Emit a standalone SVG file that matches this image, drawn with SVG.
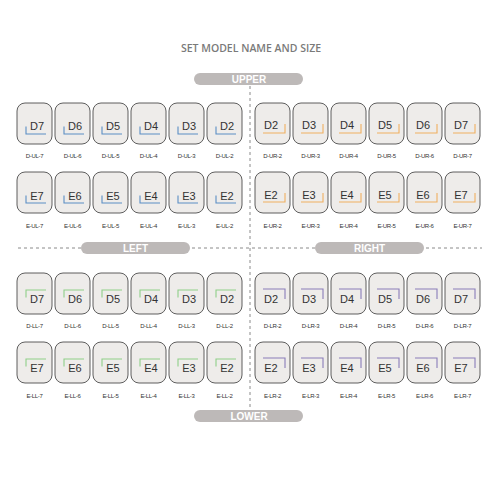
<svg xmlns="http://www.w3.org/2000/svg" width="500" height="500" viewBox="0 0 500 500">
<style>
.tile{fill:#eeecea;stroke:#4d4d4d;stroke-width:0.9}
.t{font-family:"Liberation Sans",Arial,sans-serif;font-size:11px;fill:#333;text-anchor:middle}
.lbl{font-family:"Liberation Sans",Arial,sans-serif;font-size:6px;letter-spacing:-0.3px;fill:#333;text-anchor:middle}
.b{fill:none;stroke-width:1.1}
.ul{stroke:#5b8ec4}.ur{stroke:#f0b060}.ll{stroke:#8fcf88}.lr{stroke:#8a7db8}
.pill{fill:#bdb9b8}
.pt{font-family:"Liberation Sans",Arial,sans-serif;font-weight:bold;font-size:10px;fill:#fff;text-anchor:middle}
.dash{stroke:#8a8a8a;stroke-width:1;stroke-dasharray:3 3;fill:none}
</style>
<rect width="500" height="500" fill="#fff"/>
<text x="251" y="51.5" font-family="'Open Sans','Liberation Sans',sans-serif" font-weight="600" font-size="10.5" fill="#7a7a7a" text-anchor="middle">SET MODEL NAME AND SIZE</text>
<g id="connectors">
<path class="dash" d="M250,86V410"/>
<path class="dash" d="M18,248H482"/>
</g>
<g id="upper"><rect class="pill" x="194" y="73" width="109" height="12" rx="6"/><text class="pt" x="249" y="82.5">UPPER</text></g>
<g id="lower"><rect class="pill" x="194" y="410" width="109" height="12" rx="6"/><text class="pt" x="249" y="419.5">LOWER</text></g>
<g id="left"><rect class="pill" x="81" y="242" width="109" height="12" rx="6"/><text class="pt" x="135.5" y="251.5">LEFT</text></g>
<g id="right"><rect class="pill" x="315" y="242" width="109" height="12" rx="6"/><text class="pt" x="369.5" y="251.5">RIGHT</text></g>

<!-- Upper left D -->
<g id="D-UL-7" transform="translate(17,103)"><rect class="tile" width="35" height="41" rx="8"/><path class="b ul" d="M9,23.5V31H29"/><text class="t" x="20" y="27">D7</text><text class="lbl" x="17.5" y="55">D-UL-7</text></g>
<g id="D-UL-6" transform="translate(55,103)"><rect class="tile" width="35" height="41" rx="8"/><path class="b ul" d="M9,23.5V31H29"/><text class="t" x="20" y="27">D6</text><text class="lbl" x="17.5" y="55">D-UL-6</text></g>
<g id="D-UL-5" transform="translate(93,103)"><rect class="tile" width="35" height="41" rx="8"/><path class="b ul" d="M9,23.5V31H29"/><text class="t" x="20" y="27">D5</text><text class="lbl" x="17.5" y="55">D-UL-5</text></g>
<g id="D-UL-4" transform="translate(131,103)"><rect class="tile" width="35" height="41" rx="8"/><path class="b ul" d="M9,23.5V31H29"/><text class="t" x="20" y="27">D4</text><text class="lbl" x="17.5" y="55">D-UL-4</text></g>
<g id="D-UL-3" transform="translate(169,103)"><rect class="tile" width="35" height="41" rx="8"/><path class="b ul" d="M9,23.5V31H29"/><text class="t" x="20" y="27">D3</text><text class="lbl" x="17.5" y="55">D-UL-3</text></g>
<g id="D-UL-2" transform="translate(207,103)"><rect class="tile" width="35" height="41" rx="8"/><path class="b ul" d="M9,23.5V31H29"/><text class="t" x="20" y="27">D2</text><text class="lbl" x="17.5" y="55">D-UL-2</text></g>
<!-- Upper right D -->
<g id="D-UR-2" transform="translate(255,103)"><rect class="tile" width="35" height="41" rx="8"/><path class="b ur" d="M8,30H30V21"/><text class="t" x="16" y="26">D2</text><text class="lbl" x="17.5" y="55">D-UR-2</text></g>
<g id="D-UR-3" transform="translate(293,103)"><rect class="tile" width="35" height="41" rx="8"/><path class="b ur" d="M8,30H30V21"/><text class="t" x="16" y="26">D3</text><text class="lbl" x="17.5" y="55">D-UR-3</text></g>
<g id="D-UR-4" transform="translate(331,103)"><rect class="tile" width="35" height="41" rx="8"/><path class="b ur" d="M8,30H30V21"/><text class="t" x="16" y="26">D4</text><text class="lbl" x="17.5" y="55">D-UR-4</text></g>
<g id="D-UR-5" transform="translate(369,103)"><rect class="tile" width="35" height="41" rx="8"/><path class="b ur" d="M8,30H30V21"/><text class="t" x="16" y="26">D5</text><text class="lbl" x="17.5" y="55">D-UR-5</text></g>
<g id="D-UR-6" transform="translate(407,103)"><rect class="tile" width="35" height="41" rx="8"/><path class="b ur" d="M8,30H30V21"/><text class="t" x="16" y="26">D6</text><text class="lbl" x="17.5" y="55">D-UR-6</text></g>
<g id="D-UR-7" transform="translate(445,103)"><rect class="tile" width="35" height="41" rx="8"/><path class="b ur" d="M8,30H30V21"/><text class="t" x="16" y="26">D7</text><text class="lbl" x="17.5" y="55">D-UR-7</text></g>

<!-- Upper left E -->
<g id="E-UL-7" transform="translate(17,172)"><rect class="tile" width="35" height="41" rx="8"/><path class="b ul" d="M9,23.5V31H29"/><text class="t" x="20" y="27.5">E7</text><text class="lbl" x="17.5" y="56">E-UL-7</text></g>
<g id="E-UL-6" transform="translate(55,172)"><rect class="tile" width="35" height="41" rx="8"/><path class="b ul" d="M9,23.5V31H29"/><text class="t" x="20" y="27.5">E6</text><text class="lbl" x="17.5" y="56">E-UL-6</text></g>
<g id="E-UL-5" transform="translate(93,172)"><rect class="tile" width="35" height="41" rx="8"/><path class="b ul" d="M9,23.5V31H29"/><text class="t" x="20" y="27.5">E5</text><text class="lbl" x="17.5" y="56">E-UL-5</text></g>
<g id="E-UL-4" transform="translate(131,172)"><rect class="tile" width="35" height="41" rx="8"/><path class="b ul" d="M9,23.5V31H29"/><text class="t" x="20" y="27.5">E4</text><text class="lbl" x="17.5" y="56">E-UL-4</text></g>
<g id="E-UL-3" transform="translate(169,172)"><rect class="tile" width="35" height="41" rx="8"/><path class="b ul" d="M9,23.5V31H29"/><text class="t" x="20" y="27.5">E3</text><text class="lbl" x="17.5" y="56">E-UL-3</text></g>
<g id="E-UL-2" transform="translate(207,172)"><rect class="tile" width="35" height="41" rx="8"/><path class="b ul" d="M9,23.5V31H29"/><text class="t" x="20" y="27.5">E2</text><text class="lbl" x="17.5" y="56">E-UL-2</text></g>
<!-- Upper right E -->
<g id="E-UR-2" transform="translate(255,172)"><rect class="tile" width="35" height="41" rx="8"/><path class="b ur" d="M8,30H30V21"/><text class="t" x="16" y="26.5">E2</text><text class="lbl" x="17.5" y="56">E-UR-2</text></g>
<g id="E-UR-3" transform="translate(293,172)"><rect class="tile" width="35" height="41" rx="8"/><path class="b ur" d="M8,30H30V21"/><text class="t" x="16" y="26.5">E3</text><text class="lbl" x="17.5" y="56">E-UR-3</text></g>
<g id="E-UR-4" transform="translate(331,172)"><rect class="tile" width="35" height="41" rx="8"/><path class="b ur" d="M8,30H30V21"/><text class="t" x="16" y="26.5">E4</text><text class="lbl" x="17.5" y="56">E-UR-4</text></g>
<g id="E-UR-5" transform="translate(369,172)"><rect class="tile" width="35" height="41" rx="8"/><path class="b ur" d="M8,30H30V21"/><text class="t" x="16" y="26.5">E5</text><text class="lbl" x="17.5" y="56">E-UR-5</text></g>
<g id="E-UR-6" transform="translate(407,172)"><rect class="tile" width="35" height="41" rx="8"/><path class="b ur" d="M8,30H30V21"/><text class="t" x="16" y="26.5">E6</text><text class="lbl" x="17.5" y="56">E-UR-6</text></g>
<g id="E-UR-7" transform="translate(445,172)"><rect class="tile" width="35" height="41" rx="8"/><path class="b ur" d="M8,30H30V21"/><text class="t" x="16" y="26.5">E7</text><text class="lbl" x="17.5" y="56">E-UR-7</text></g>

<!-- Lower left D -->
<g id="D-LL-7" transform="translate(17,273)"><rect class="tile" width="35" height="41" rx="8"/><path class="b ll" d="M9,24.5V17H29"/><text class="t" x="20" y="30">D7</text><text class="lbl" x="17.5" y="55">D-LL-7</text></g>
<g id="D-LL-6" transform="translate(55,273)"><rect class="tile" width="35" height="41" rx="8"/><path class="b ll" d="M9,24.5V17H29"/><text class="t" x="20" y="30">D6</text><text class="lbl" x="17.5" y="55">D-LL-6</text></g>
<g id="D-LL-5" transform="translate(93,273)"><rect class="tile" width="35" height="41" rx="8"/><path class="b ll" d="M9,24.5V17H29"/><text class="t" x="20" y="30">D5</text><text class="lbl" x="17.5" y="55">D-LL-5</text></g>
<g id="D-LL-4" transform="translate(131,273)"><rect class="tile" width="35" height="41" rx="8"/><path class="b ll" d="M9,24.5V17H29"/><text class="t" x="20" y="30">D4</text><text class="lbl" x="17.5" y="55">D-LL-4</text></g>
<g id="D-LL-3" transform="translate(169,273)"><rect class="tile" width="35" height="41" rx="8"/><path class="b ll" d="M9,24.5V17H29"/><text class="t" x="20" y="30">D3</text><text class="lbl" x="17.5" y="55">D-LL-3</text></g>
<g id="D-LL-2" transform="translate(207,273)"><rect class="tile" width="35" height="41" rx="8"/><path class="b ll" d="M9,24.5V17H29"/><text class="t" x="20" y="30">D2</text><text class="lbl" x="17.5" y="55">D-LL-2</text></g>
<!-- Lower right D -->
<g id="D-LR-2" transform="translate(255,273)"><rect class="tile" width="35" height="41" rx="8"/><path class="b lr" d="M8,16H30V26"/><text class="t" x="16" y="29.5">D2</text><text class="lbl" x="17.5" y="55">D-LR-2</text></g>
<g id="D-LR-3" transform="translate(293,273)"><rect class="tile" width="35" height="41" rx="8"/><path class="b lr" d="M8,16H30V26"/><text class="t" x="16" y="29.5">D3</text><text class="lbl" x="17.5" y="55">D-LR-3</text></g>
<g id="D-LR-4" transform="translate(331,273)"><rect class="tile" width="35" height="41" rx="8"/><path class="b lr" d="M8,16H30V26"/><text class="t" x="16" y="29.5">D4</text><text class="lbl" x="17.5" y="55">D-LR-4</text></g>
<g id="D-LR-5" transform="translate(369,273)"><rect class="tile" width="35" height="41" rx="8"/><path class="b lr" d="M8,16H30V26"/><text class="t" x="16" y="29.5">D5</text><text class="lbl" x="17.5" y="55">D-LR-5</text></g>
<g id="D-LR-6" transform="translate(407,273)"><rect class="tile" width="35" height="41" rx="8"/><path class="b lr" d="M8,16H30V26"/><text class="t" x="16" y="29.5">D6</text><text class="lbl" x="17.5" y="55">D-LR-6</text></g>
<g id="D-LR-7" transform="translate(445,273)"><rect class="tile" width="35" height="41" rx="8"/><path class="b lr" d="M8,16H30V26"/><text class="t" x="16" y="29.5">D7</text><text class="lbl" x="17.5" y="55">D-LR-7</text></g>

<!-- Lower left E -->
<g id="E-LL-7" transform="translate(17,342)"><rect class="tile" width="35" height="41" rx="8"/><path class="b ll" d="M9,24.5V17H29"/><text class="t" x="20" y="30">E7</text><text class="lbl" x="17.5" y="56">E-LL-7</text></g>
<g id="E-LL-6" transform="translate(55,342)"><rect class="tile" width="35" height="41" rx="8"/><path class="b ll" d="M9,24.5V17H29"/><text class="t" x="20" y="30">E6</text><text class="lbl" x="17.5" y="56">E-LL-6</text></g>
<g id="E-LL-5" transform="translate(93,342)"><rect class="tile" width="35" height="41" rx="8"/><path class="b ll" d="M9,24.5V17H29"/><text class="t" x="20" y="30">E5</text><text class="lbl" x="17.5" y="56">E-LL-5</text></g>
<g id="E-LL-4" transform="translate(131,342)"><rect class="tile" width="35" height="41" rx="8"/><path class="b ll" d="M9,24.5V17H29"/><text class="t" x="20" y="30">E4</text><text class="lbl" x="17.5" y="56">E-LL-4</text></g>
<g id="E-LL-3" transform="translate(169,342)"><rect class="tile" width="35" height="41" rx="8"/><path class="b ll" d="M9,24.5V17H29"/><text class="t" x="20" y="30">E3</text><text class="lbl" x="17.5" y="56">E-LL-3</text></g>
<g id="E-LL-2" transform="translate(207,342)"><rect class="tile" width="35" height="41" rx="8"/><path class="b ll" d="M9,24.5V17H29"/><text class="t" x="20" y="30">E2</text><text class="lbl" x="17.5" y="56">E-LL-2</text></g>
<!-- Lower right E -->
<g id="E-LR-2" transform="translate(255,342)"><rect class="tile" width="35" height="41" rx="8"/><path class="b lr" d="M8,16H30V26"/><text class="t" x="16" y="29.5">E2</text><text class="lbl" x="17.5" y="56">E-LR-2</text></g>
<g id="E-LR-3" transform="translate(293,342)"><rect class="tile" width="35" height="41" rx="8"/><path class="b lr" d="M8,16H30V26"/><text class="t" x="16" y="29.5">E3</text><text class="lbl" x="17.5" y="56">E-LR-3</text></g>
<g id="E-LR-4" transform="translate(331,342)"><rect class="tile" width="35" height="41" rx="8"/><path class="b lr" d="M8,16H30V26"/><text class="t" x="16" y="29.5">E4</text><text class="lbl" x="17.5" y="56">E-LR-4</text></g>
<g id="E-LR-5" transform="translate(369,342)"><rect class="tile" width="35" height="41" rx="8"/><path class="b lr" d="M8,16H30V26"/><text class="t" x="16" y="29.5">E5</text><text class="lbl" x="17.5" y="56">E-LR-5</text></g>
<g id="E-LR-6" transform="translate(407,342)"><rect class="tile" width="35" height="41" rx="8"/><path class="b lr" d="M8,16H30V26"/><text class="t" x="16" y="29.5">E6</text><text class="lbl" x="17.5" y="56">E-LR-6</text></g>
<g id="E-LR-7" transform="translate(445,342)"><rect class="tile" width="35" height="41" rx="8"/><path class="b lr" d="M8,16H30V26"/><text class="t" x="16" y="29.5">E7</text><text class="lbl" x="17.5" y="56">E-LR-7</text></g>
</svg>
